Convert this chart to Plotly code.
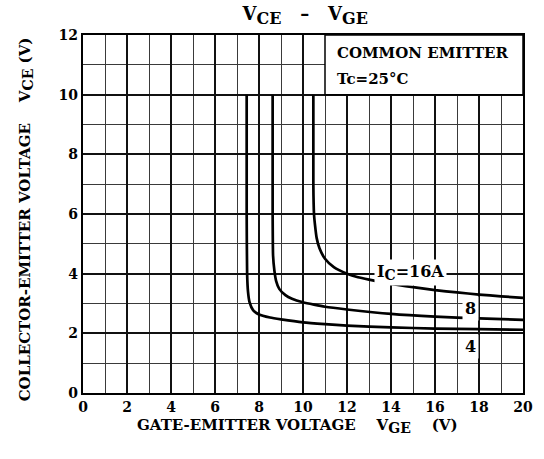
import plotly.graph_objects as go

# Data
ic4_x = [7.44, 7.44, 7.46, 7.5, 7.57, 7.73, 8.0, 8.5, 9.0, 10.0, 11.0, 12.0, 14.0, 16.0, 18.0, 20.0]
ic4_y = [10.0, 6.0, 4.0, 3.4, 3.05, 2.78, 2.63, 2.53, 2.47, 2.37, 2.31, 2.26, 2.2, 2.16, 2.14, 2.12]

ic8_x = [8.62, 8.62, 8.64, 8.7, 8.78, 8.92, 9.2, 9.5, 10.0, 10.5, 11.0, 12.0, 14.0, 16.0, 18.0, 20.0]
ic8_y = [10.0, 6.0, 4.6, 4.1, 3.75, 3.49, 3.28, 3.16, 3.04, 2.96, 2.89, 2.8, 2.65, 2.56, 2.5, 2.45]

ic16_x = [10.47, 10.47, 10.5, 10.55, 10.62, 10.75, 11.0, 11.4, 12.0, 12.5, 13.0, 14.0, 15.0, 16.0, 17.0, 18.0, 19.0, 20.0]
ic16_y = [10.0, 7.0, 6.0, 5.6, 5.2, 4.85, 4.5, 4.22, 4.0, 3.88, 3.8, 3.66, 3.55, 3.45, 3.37, 3.3, 3.24, 3.19]

x_ticks = [0, 2, 4, 6, 8, 10, 12, 14, 16, 18, 20]
y_ticks = [0, 2, 4, 6, 8, 10, 12]

curve_labels = ["<b>I<sub><span style='font-size:14px'>C</span></sub>=16A</b>", "<b>8</b>", "<b>4</b>"]
label_x = [14.9, 17.6, 17.6]
label_y = [4.05, 2.84, 1.56]

FONT = "DejaVu Serif"

fig = go.Figure()
for xs, ys in [(ic4_x, ic4_y), (ic8_x, ic8_y), (ic16_x, ic16_y)]:
    fig.add_trace(go.Scatter(x=xs, y=ys, mode="lines",
                             line=dict(color="black", width=2.7, shape="spline", smoothing=0.5),
                             showlegend=False, hoverinfo="skip"))

for t, lx, ly in zip(curve_labels, label_x, label_y):
    fig.add_annotation(x=lx, y=ly, text=t, showarrow=False, bgcolor="white",
                       font=dict(family=FONT, size=16, color="black"), borderpad=2)

# info box
fig.add_shape(type="rect", x0=11.0, x1=20, y0=10, y1=12, fillcolor="white",
              line=dict(color="black", width=1.5), layer="above")
fig.add_annotation(x=11.44, y=11.39, text="<b>COMMON EMITTER</b>", showarrow=False,
                   xanchor="left", font=dict(family=FONT, size=15, color="black"))
fig.add_annotation(x=11.44, y=10.53, text="<b>Tc=25°C</b>", showarrow=False,
                   xanchor="left", font=dict(family=FONT, size=15, color="black"))

axis_common = dict(ticks="", showline=True, linecolor="black", linewidth=2.2, mirror=True,
                   showgrid=True, gridcolor="#111", gridwidth=1.7,
                   minor=dict(dtick=1, showgrid=True, gridcolor="#3a3a3a", gridwidth=1.1),
                   zeroline=False,
                   tickfont=dict(family=FONT, size=14, color="black", weight="bold"))
fig.update_xaxes(range=[0, 20], tickvals=x_ticks, **axis_common)
fig.update_yaxes(range=[0, 12], tickvals=y_ticks, **axis_common)

fig.add_annotation(xref="paper", yref="paper", x=0.487, y=-0.126,
                   text="<b>GATE-EMITTER VOLTAGE &nbsp;&nbsp; V<sub><span style='font-size:14px'>GE</span></sub> &nbsp;&nbsp; (V)</b>",
                   showarrow=False, font=dict(family=FONT, size=15, color="black"))
fig.add_annotation(xref="paper", yref="paper", x=-0.156, y=0.486, textangle=-90,
                   text="<b>COLLECTOR-EMITTER VOLTAGE &nbsp;&nbsp; V<sub><span style='font-size:14px'>CE</span></sub> (V)</b>",
                   showarrow=False, font=dict(family=FONT, size=15, color="black"))

fig.update_layout(
    width=544, height=459, autosize=False,
    margin=dict(l=83, r=11, t=35, b=66),
    paper_bgcolor="white", plot_bgcolor="white",
    title=dict(text="<b>V<sub><span style='font-size:16px'>CE</span></sub> &nbsp;&nbsp;–&nbsp;&nbsp; V<sub><span style='font-size:16px'>GE</span></sub></b>",
               x=0.561, xanchor="center", y=0.9695, yanchor="middle",
               font=dict(family=FONT, size=18, color="black")),
)

# remove the default page margin so the figure fills the 544x459 window exactly
post = ("document.body.style.margin='0';document.body.style.overflow='hidden';")
fig.write_html("out.html", post_script=post,
               config={"responsive": False, "displayModeBar": False})
